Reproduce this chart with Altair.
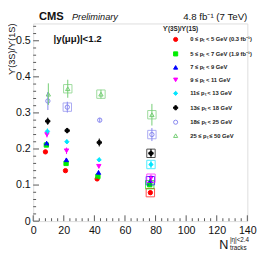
import altair as alt
import pandas as pd

FONT = "Liberation Sans"

series = [
    "0 ≤ pₜ < 5 GeV (0.3 fb⁻¹)",
    "5 ≤ pₜ < 7 GeV (1.9 fb⁻¹)",
    "7 ≤ pₜ < 9 GeV",
    "9 ≤ pₜ < 11 GeV",
    "11≤ pₜ < 13 GeV",
    "13≤ pₜ < 18 GeV",
    "18≤ pₜ < 25 GeV",
    "25 ≤ pₜ ≤ 50 GeV",
]
colors = ["#ff0000", "#00ee00", "#0000ff", "#ff00ff", "#00e5ff", "#000000", "#8585ee", "#72cc72"]
fills = ["#ff0000", "#00ee00", "#0000ff", "#ff00ff", "#00e5ff", "#000000", "white", "white"]
shapes = ["circle", "square", "triangle-up", "triangle-down", "diamond", "cross", "circle", "triangle-up"]

# N_tracks positions per series (4 multiplicity bins)
x_vals = [
    [8.0, 21.1, 41.8, 76.6],
    [8.6, 21.5, 42.3, 76.2],
    [8.8, 21.7, 42.7, 76.6],
    [9.0, 21.8, 42.9, 77.0],
    [9.3, 22.0, 43.1, 77.0],
    [9.5, 22.2, 43.2, 77.0],
    [9.6, 22.3, 43.5, 77.6],
    [9.9, 22.6, 44.3, 77.6],
]
y_vals = [
    [0.192, 0.140, 0.117, 0.079],
    [0.211, 0.160, 0.124, 0.101],
    [0.216, 0.170, 0.135, 0.112],
    [0.240, 0.195, 0.152, 0.119],
    [0.249, 0.220, 0.170, 0.157],
    [0.277, 0.251, 0.218, 0.188],
    [0.333, 0.316, 0.280, 0.240],
    [0.352, 0.367, 0.352, 0.295],
]
y_err = [
    [0.004, 0.004, 0.004, 0.006],
    [0.004, 0.004, 0.005, 0.006],
    [0.005, 0.005, 0.005, 0.007],
    [0.008, 0.009, 0.006, 0.010],
    [0.008, 0.006, 0.006, 0.010],
    [0.010, 0.006, 0.011, 0.012],
    [0.025, 0.015, 0.006, 0.018],
    [0.030, 0.025, 0.012, 0.030],
]
# (series index, bin index) of points drawn with a systematic box
syst_points = [(0, 3), (1, 3), (2, 3), (3, 3), (4, 3), (5, 3), (6, 3), (7, 3),
               (6, 1), (7, 1), (7, 2)]

x_labels = [0, 20, 40, 60, 80, 100, 120, 140]
x_minor = [4, 8, 12, 16, 24, 28, 32, 36, 44, 48, 52, 56, 64, 68, 72, 76, 84, 88, 92, 96,
           104, 108, 112, 116, 124, 128, 132, 136]
y_labels = [0, 0.1, 0.2, 0.3, 0.4, 0.5]
y_minor = [0.02, 0.04, 0.06, 0.08, 0.12, 0.14, 0.16, 0.18, 0.22, 0.24, 0.26, 0.28,
           0.32, 0.34, 0.36, 0.38, 0.42, 0.44, 0.46, 0.48, 0.52, 0.54]

rows = []
for i, s in enumerate(series):
    for j in range(4):
        rows.append({"series": s, "x": x_vals[i][j], "y": y_vals[i][j],
                     "lo": y_vals[i][j] - y_err[i][j], "hi": y_vals[i][j] + y_err[i][j],
                     "syst": (i, j) in syst_points})
df = pd.DataFrame(rows)

W, H = 221, 204
xs = alt.Scale(domain=[0, 140], nice=False, zero=False)
ys = alt.Scale(domain=[0, 0.548], nice=False, zero=False)

x_axis = alt.Axis(
    values=x_labels, format="d", title=None, tickSize=0, domain=False, grid=False,
    labelFlush=False, labelOverlap=False, labelBound=False,
    labelFont=FONT, labelFontSize=11, labelColor="#111", labelPadding=4)
y_axis = alt.Axis(
    values=y_labels, format="~g", title=None, tickSize=0, domain=False, grid=False,
    labelFlush=False, labelOverlap=False,
    labelFont=FONT, labelFontSize=11, labelColor="#111", labelPadding=3)

leg = alt.Legend(
    title="ϒ(3S)/ϒ(1S)", orient="none", legendX=134, legendY=3,
    titleFont=FONT, titleFontSize=6.5, titleFontWeight="bold", titleColor="#222",
    titlePadding=4, labelFont=FONT, labelFontSize=6, labelFontWeight="bold",
    labelColor="#222", symbolSize=18, symbolStrokeWidth=1, rowPadding=4.9,
    symbolOffset=10, labelOffset=12,
)

shape_enc = alt.Shape("series:N", scale=alt.Scale(domain=series, range=shapes), legend=leg)
stroke_enc = alt.Stroke("series:N", scale=alt.Scale(domain=series, range=colors), legend=leg)
fill_enc = alt.Fill("series:N", scale=alt.Scale(domain=series, range=fills), legend=leg)
color_enc = alt.Color("series:N", scale=alt.Scale(domain=series, range=colors), legend=None)

base = alt.Chart(df)

pts = base.mark_point(size=20, strokeWidth=1, opacity=1).encode(
    x=alt.X("x:Q", scale=xs, axis=x_axis),
    y=alt.Y("y:Q", scale=ys, axis=y_axis),
    shape=shape_enc, stroke=stroke_enc, fill=fill_enc,
)

errs = base.mark_rule(strokeWidth=1).encode(
    x=alt.X("x:Q", scale=xs, axis=x_axis),
    y=alt.Y("lo:Q", scale=ys, axis=y_axis),
    y2="hi:Q",
    color=color_enc,
)

boxes = base.transform_filter("datum.syst").mark_point(
    shape="square", size=75, filled=False, strokeWidth=1, opacity=0.7
).encode(
    x=alt.X("x:Q", scale=xs, axis=x_axis),
    y=alt.Y("y:Q", scale=ys, axis=y_axis),
    color=color_enc,
)

ytick_major = alt.Chart(pd.DataFrame({"v": y_labels})).mark_rule(color="#555").encode(
    y=alt.Y("v:Q", scale=ys, axis=y_axis), x=alt.value(0), x2=alt.value(6))
ytick_minor = alt.Chart(pd.DataFrame({"v": y_minor})).mark_rule(color="#555").encode(
    y=alt.Y("v:Q", scale=ys, axis=y_axis), x=alt.value(0), x2=alt.value(3))
xtick_major = alt.Chart(pd.DataFrame({"v": x_labels})).mark_rule(color="#555").encode(
    x=alt.X("v:Q", scale=xs, axis=x_axis), y=alt.value(H), y2=alt.value(H - 6))
xtick_minor = alt.Chart(pd.DataFrame({"v": x_minor})).mark_rule(color="#555").encode(
    x=alt.X("v:Q", scale=xs, axis=x_axis), y=alt.value(H), y2=alt.value(H - 3))


def label(text, x, y, size, weight="normal", style="normal", align="left", baseline="alphabetic", angle=0):
    return alt.Chart(pd.DataFrame({"t": [text]})).mark_text(
        font=FONT, fontSize=size, fontWeight=weight, fontStyle=style, align=align,
        baseline=baseline, angle=angle, color="#111"
    ).encode(text="t:N", x=alt.value(x), y=alt.value(y))


texts = [
    label("CMS", 6, -3.5, 11.5, weight="bold"),
    label("Preliminary", 40, -3.5, 9.5, style="italic"),
    label("4.8 fb⁻¹ (7 TeV)", 221, -3.5, 10, align="right"),
    label("|y(μμ)|<1.2", 21, 16, 10, weight="bold", baseline="middle"),
    label("ϒ(3S)/ϒ(1S)", -22, 0, 9.5, align="right", baseline="middle", angle=270),
    label("N", 192, 233, 13),
    label("|η|<2.4", 203, 225.5, 6.5),
    label("tracks", 203, 234, 6.5),
]

chart = alt.layer(
    pts, ytick_major, ytick_minor, xtick_major, xtick_minor, boxes, errs, *texts
).properties(
    width=W, height=H,
    autosize=alt.AutoSizeParams(type="none"),
    padding={"left": 26, "top": 12, "right": 11, "bottom": 31},
).configure_view(stroke="black", strokeWidth=1).configure(background="white")

chart.save("out.html", embed_options={"renderer": "svg", "actions": False})
